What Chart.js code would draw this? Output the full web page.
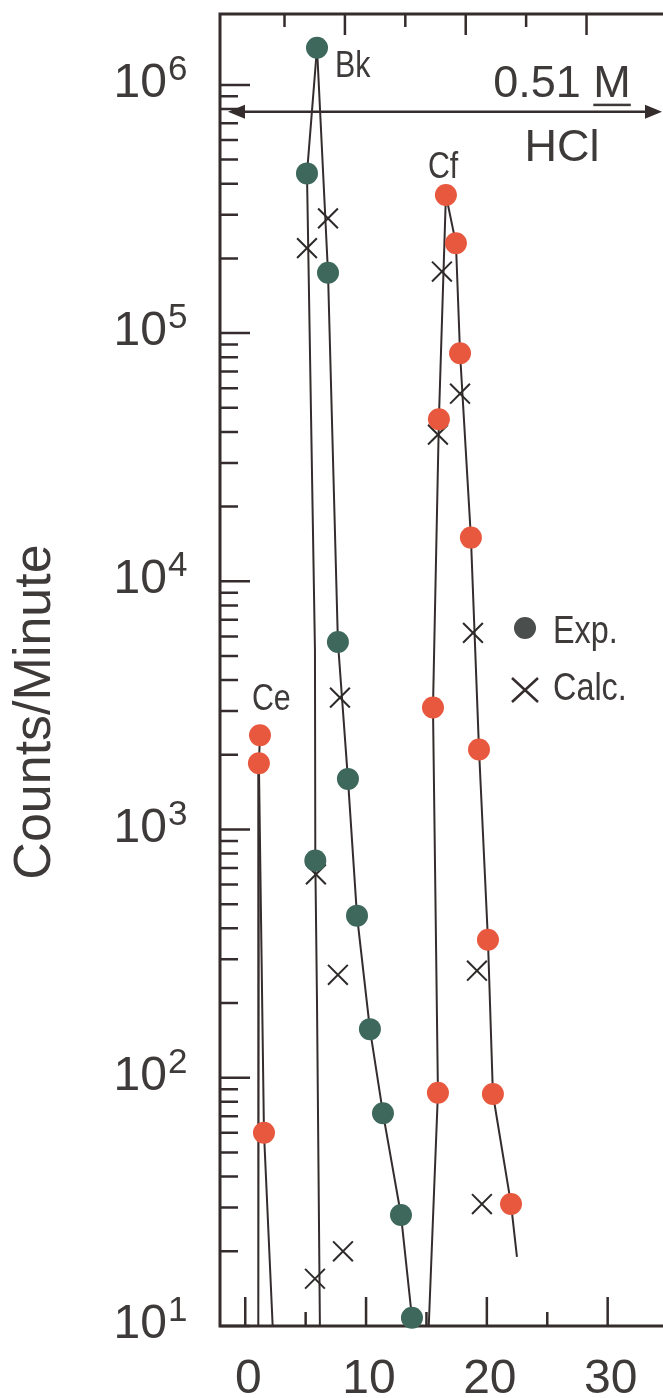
<!DOCTYPE html>
<html>
<head>
<meta charset="utf-8">
<script src="https://cdn.jsdelivr.net/npm/chart.js@4.4.0/dist/chart.umd.min.js"></script>
<style>
  html, body { margin: 0; padding: 0; background: #fff; }
  canvas { display: block; }
</style>
</head>
<body>
<canvas id="chart" width="663" height="1398"></canvas>
<script>
const ceExpX = [1.22, 1.13, 1.55];
const ceExpY = [2400, 1850, 60];

const bkExpX = [5.94, 5.11, 6.85, 7.67, 5.80, 8.50, 9.25, 10.32, 11.40, 12.89, 13.80];
const bkExpY = [1.41e6, 4.4e5, 1.75e5, 5700, 750, 1600, 450, 157, 72, 28, 10.8];

const cfExpX = [16.61, 17.44, 17.78, 16.03, 18.68, 15.54, 19.35, 20.09, 15.95, 20.50, 22.00];
const cfExpY = [3.6e5, 2.3e5, 8.3e4, 4.5e4, 1.5e4, 3100, 2100, 360, 87, 86, 31];

// Calculated points
const calcX = [5.11, 6.85, 16.28, 17.78, 15.95, 18.85, 7.84, 5.85, 7.67, 19.18, 19.59, 8.09, 5.77];
const calcY = [2.2e5, 2.9e5, 1.77e5, 5.7e4, 3.9e4, 6200, 3400, 660, 260, 270, 31, 20, 15.5];

// Hand-drawn elution curves, one per branch of each peak
const ceLeftX = [1.22, 1.13, 1.08];
const ceLeftY = [2400, 1850, 10];
const ceRightX = [1.13, 1.55, 2.27];
const ceRightY = [1850, 60, 10];
const bkLeftX = [5.94, 5.11, 5.77, 5.80, 5.94, 6.18];
const bkLeftY = [1.41e6, 4.4e5, 5300, 750, 200, 10];
const bkRightX = [5.94, 6.85, 7.67, 8.50, 9.25, 10.32, 11.40, 12.89, 13.80];
const bkRightY = [1.41e6, 1.75e5, 5700, 1600, 450, 157, 72, 28, 10.8];
const cfLeftX = [16.61, 16.03, 15.54, 15.95, 15.19];
const cfLeftY = [3.6e5, 4.5e4, 3100, 87, 10];
const cfRightX = [16.61, 17.44, 17.78, 18.68, 19.35, 20.09, 20.50, 22.00, 22.49];
const cfRightY = [3.6e5, 2.3e5, 8.3e4, 1.5e4, 2100, 360, 86, 31, 19];

// Axis ticks
const xTickLabels = [0, 10, 20, 30];
const xMinorTicks = [5, 15, 25];
const topTicks = [5, 10, 15, 20, 25, 30];
const yExponents = [1, 2, 3, 4, 5, 6];

const X_MIN = -2.09, X_MAX = 34.58;
const Y_MIN = 10, Y_MAX = 1.93e6;
const TOP_SHIFT = 1.75; // top ticks are offset in the scanned original

const GREEN = '#3e685c';
const RED = '#e8583e';
const INK = '#352d2d';
const TEXT = '#3e3a3a';
const FONT = '"Liberation Sans", Arial, sans-serif';

function pts(xs, ys) {
    return xs.map((x, i) => ({ x: x, y: ys[i] }));
}

function curve(xs, ys) {
    return {
        data: pts(xs, ys),
        showLine: true,
        borderColor: INK,
        borderWidth: 2,
        pointRadius: 0,
        tension: 0,
        order: 3
    };
}

function dots(xs, ys, color) {
    return {
        data: pts(xs, ys),
        backgroundColor: color,
        borderWidth: 0,
        pointRadius: 11,
        clip: false,
        order: 1
    };
}

function narrowText(ctx, text, x, y, size, sx) {
    ctx.save();
    ctx.translate(x, y);
    ctx.scale(sx, 1);
    ctx.font = size + 'px ' + FONT;
    ctx.textAlign = 'left';
    ctx.textBaseline = 'alphabetic';
    ctx.fillText(text, 0, 0);
    ctx.restore();
}

// Peak labels, anchored in data space (left edge, baseline)
const peakLabels = [
    { text: 'Bk', x: 7.43, y: 1.08e6 },
    { text: 'Cf', x: 15.12, y: 4.22e5 },
    { text: 'Ce', x: 0.55, y: 3.03e3 }
];
const ARROW_Y = 7.8e5;
const ARROW_X0 = -1.43;

const framePlugin = {
    id: 'frame',
    beforeDatasetsDraw(chart) {
        const ctx = chart.ctx;
        const ca = chart.chartArea;
        const xs = chart.scales.x;
        const xt = chart.scales.xTop;
        const ys = chart.scales.y;
        const right = chart.width;

        ctx.save();
        ctx.strokeStyle = INK;
        ctx.lineWidth = 3;
        ctx.beginPath();
        ctx.moveTo(right, ca.top);
        ctx.lineTo(ca.left, ca.top);
        ctx.lineTo(ca.left, ca.bottom);
        ctx.lineTo(right, ca.bottom);
        ctx.stroke();

        ctx.lineWidth = 2.5;
        ctx.beginPath();
        // left axis, decades with minor ticks
        yExponents.forEach(n => {
            for (let k = 1; k <= 9; k++) {
                const v = k * Math.pow(10, n);
                if (v < Y_MIN || v > Y_MAX) continue;
                const py = ys.getPixelForValue(v);
                ctx.moveTo(ca.left, py);
                ctx.lineTo(ca.left + (k === 1 ? 30 : 18), py);
            }
        });
        // bottom axis
        xTickLabels.forEach(v => {
            const px = xs.getPixelForValue(v);
            ctx.moveTo(px, ca.bottom);
            ctx.lineTo(px, ca.bottom - 29);
        });
        xMinorTicks.forEach(v => {
            const px = xs.getPixelForValue(v);
            ctx.moveTo(px, ca.bottom);
            ctx.lineTo(px, ca.bottom - 14);
        });
        // top axis
        topTicks.forEach(v => {
            const px = xt.getPixelForValue(v);
            ctx.moveTo(px, ca.top);
            ctx.lineTo(px, ca.top + (v % 10 === 0 ? 21 : 13));
        });
        ctx.stroke();

        // 0.51 M HCl eluent arrow
        const ay = ys.getPixelForValue(ARROW_Y);
        const ax0 = xs.getPixelForValue(ARROW_X0);
        const ax1 = right - 1;
        ctx.lineWidth = 2.5;
        ctx.beginPath();
        ctx.moveTo(ax0 + 10, ay);
        ctx.lineTo(ax1 - 10, ay);
        ctx.stroke();
        ctx.fillStyle = INK;
        ctx.beginPath();
        ctx.moveTo(ax0, ay);
        ctx.lineTo(ax0 + 17, ay - 7);
        ctx.lineTo(ax0 + 17, ay + 7);
        ctx.closePath();
        ctx.moveTo(ax1, ay);
        ctx.lineTo(ax1 - 17, ay - 7);
        ctx.lineTo(ax1 - 17, ay + 7);
        ctx.closePath();
        ctx.fill();
        ctx.restore();
    },
    afterDatasetsDraw(chart) {
        const ctx = chart.ctx;
        const ca = chart.chartArea;
        const xs = chart.scales.x;
        const ys = chart.scales.y;

        ctx.save();
        ctx.fillStyle = TEXT;

        // y tick labels 10^n
        yExponents.forEach(n => {
            const py = ys.getPixelForValue(Math.pow(10, n));
            const base = py + 12;
            ctx.font = '48px ' + FONT;
            ctx.textAlign = 'right';
            ctx.textBaseline = 'alphabetic';
            ctx.fillText('10', ca.left - 53, base);
            ctx.font = '35px ' + FONT;
            ctx.textAlign = 'left';
            ctx.fillText(String(n), ca.left - 52, base - 17);
        });

        // x tick labels
        ctx.font = '48px ' + FONT;
        ctx.textAlign = 'center';
        xTickLabels.forEach(v => {
            ctx.fillText(String(v), xs.getPixelForValue(v) + 3, ca.bottom + 67);
        });

        // y axis title
        ctx.save();
        ctx.translate(36, 712);
        ctx.rotate(-Math.PI / 2);
        ctx.font = '52px ' + FONT;
        ctx.textAlign = 'center';
        ctx.textBaseline = 'middle';
        ctx.fillText('Counts/Minute', 0, 0);
        ctx.restore();

        // eluent label
        const ay = ys.getPixelForValue(ARROW_Y);
        const cx = 562;
        ctx.font = '45px ' + FONT;
        ctx.textAlign = 'center';
        ctx.textBaseline = 'alphabetic';
        ctx.fillText('0.51 M', cx, ay - 15);
        const w = ctx.measureText('0.51 M').width;
        const wm = ctx.measureText('M').width;
        ctx.fillRect(cx + w / 2 - wm, ay - 8, wm, 2.5);
        ctx.fillText('HCl', cx, ay + 49);

        // peak labels
        peakLabels.forEach(l => {
            narrowText(ctx, l.text, xs.getPixelForValue(l.x), ys.getPixelForValue(l.y), 37, 0.82);
        });

        // key
        const kx = 525;
        ctx.fillStyle = '#4a4f4e';
        ctx.beginPath();
        ctx.arc(kx, 628, 11, 0, Math.PI * 2);
        ctx.fill();
        ctx.strokeStyle = INK;
        ctx.lineWidth = 2.5;
        ctx.beginPath();
        ctx.moveTo(kx - 13, 678);
        ctx.lineTo(kx + 13, 702);
        ctx.moveTo(kx + 13, 678);
        ctx.lineTo(kx - 13, 702);
        ctx.stroke();
        ctx.fillStyle = TEXT;
        narrowText(ctx, 'Exp.', 553, 643, 39, 0.83);
        narrowText(ctx, 'Calc.', 553, 700, 39, 0.83);
        ctx.restore();
    }
};

new Chart(document.getElementById('chart'), {
    type: 'scatter',
    data: {
        datasets: [
            dots(bkExpX, bkExpY, GREEN),
            dots(cfExpX, cfExpY, RED),
            dots(ceExpX, ceExpY, RED),
            {
                data: pts(calcX, calcY),
                pointStyle: 'crossRot',
                pointRadius: 14,
                borderColor: '#2e2a2a',
                borderWidth: 2,
                clip: false,
                order: 2
            },
            curve(ceLeftX, ceLeftY),
            curve(ceRightX, ceRightY),
            curve(bkLeftX, bkLeftY),
            curve(bkRightX, bkRightY),
            curve(cfLeftX, cfLeftY),
            curve(cfRightX, cfRightY)
        ]
    },
    options: {
        responsive: false,
        animation: false,
        layout: { autoPadding: false, padding: { left: 220, top: 14, right: 0, bottom: 72 } },
        plugins: { legend: { display: false }, tooltip: { enabled: false } },
        scales: {
            x: { type: 'linear', min: X_MIN, max: X_MAX, display: false },
            xTop: { type: 'linear', axis: 'x', min: X_MIN + TOP_SHIFT, max: X_MAX + TOP_SHIFT, display: false },
            y: { type: 'logarithmic', min: Y_MIN, max: Y_MAX, display: false }
        }
    },
    plugins: [framePlugin]
});
</script>
</body>
</html>
